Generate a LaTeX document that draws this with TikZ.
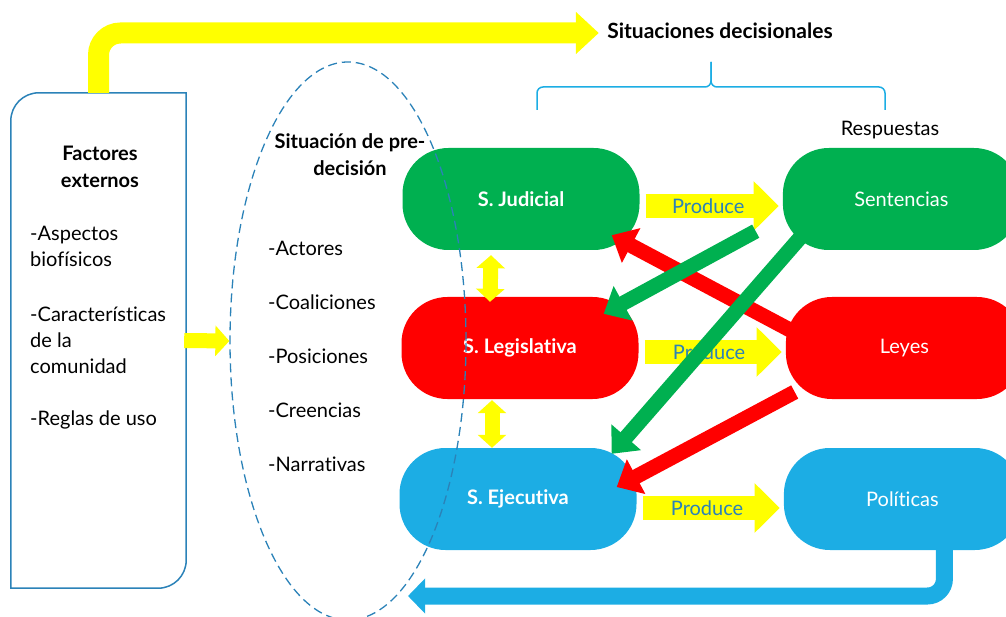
\documentclass[tikz,border=0pt]{standalone}
\usepackage{fontspec}
\setmainfont{Lato}[Ligatures=NoCommon]
\usetikzlibrary{positioning,arrows.meta,shapes.geometric}
\definecolor{sgreen}{HTML}{00B050}
\definecolor{sred}{HTML}{FF0000}
\definecolor{sblue}{HTML}{1CADE4}
\definecolor{syellow}{HTML}{FFFF00}
\definecolor{lineblue}{HTML}{2B82B8}

\begin{document}
\begin{tikzpicture}
		[x=1pt,y=-1pt,
		 plain/.style={font=\fontsize{20pt}{26pt}\selectfont},
		 heading/.style={font=\bfseries\fontsize{20pt}{27pt}\selectfont, align=center},
		 item/.style={plain, anchor=west, align=left, inner sep=0pt},
		 branch/.style={rectangle, rounded corners=46pt, minimum width=237pt, minimum height=102pt, text=white, font=\bfseries\fontsize{20pt}{24pt}\selectfont},
		 answer/.style={branch, font=\fontsize{20pt}{24pt}\selectfont},
		 produce/.style={line width=24pt, draw=syellow, -{Triangle[length=25pt,width=48pt]}},
		 twoway/.style={line width=15pt, draw=syellow, {Triangle[length=13pt,width=28pt]}-{Triangle[length=13pt,width=28pt]}},
		 law/.style={line width=15pt, draw=sred, -{Triangle[length=22pt,width=38pt]}},
		 ruling/.style={line width=15pt, draw=sgreen, -{Triangle[length=22pt,width=38pt]}},
		 feedback/.style={line width=17pt, draw=sblue, rounded corners=17pt, -{Triangle[length=17pt,width=34pt]}}]
		\useasboundingbox (0,0) rectangle (1006,617);
		\clip (0,0) rectangle (1006,617);

		% external factors box
		\node[minimum width=175pt, minimum height=495pt, inner sep=0pt] (ext) at (98.5,340.5) {};
		\draw[lineblue, line width=1.5pt] (ext.north east) -- ([xshift=28pt]ext.north west) arc[start angle=270, end angle=180, radius=28]
			-- (ext.south west) -- ([xshift=-28pt]ext.south east) arc[start angle=90, end angle=0, radius=28] -- cycle;
		\node[heading] (fact) at (100,166.5) {Factores\\externos};
		\node[item] (asp) at (30,246.5) {-Aspectos\\biofísicos};
		\node[item] (car) at (30,340.5) {-Características\\de la\\comunidad};
		\node[item] (reg) at (30,420) {-Reglas de uso};

		% top yellow arrow and braces
		\node[heading, font=\bfseries\fontsize{21pt}{27pt}\selectfont] (sd) at (720,31) {Situaciones decisionales};
		\draw[line width=21pt, draw=syellow, rounded corners=22pt, -{Triangle[length=23pt,width=41pt]}] (ext.north) |- ([xshift=-5pt,yshift=-2pt]sd.west);
		\draw[sblue, line width=1.5pt, rounded corners=6pt] (537,110) |- (711,87) -- (711,62);
		\draw[sblue, line width=1.5pt, rounded corners=6pt] (885,110) |- (711,87) -- (711,62);
		\node[plain] (resp) at (890,130) {Respuestas};

		% pre-decision texts
		\node[heading] (prt) at (350,154.5) {Situación de pre-\\decisión};
		\foreach \t [count=\i] in {Actores,Coaliciones,Posiciones,Creencias,Narrativas}
			\node[item] (it\i) at (268,{194+54*\i}) {-\t};

		% the three branches and what they give
		\node[branch, fill=sgreen] (jud) at (521,199) {S. Judicial};
		\node[branch, fill=sred] (leg) at (520,348) {S. Legislativa};
		\node[branch, fill=sblue] (eje) at (518,499) {S. Ejecutiva};
		\node[answer, fill=sgreen, right=143pt of jud] (sent) {Sentencias};
		\node[answer, fill=sred, right=147pt of leg] (ley) {Leyes};
		\node[answer, fill=sblue, right=147pt of eje] (pol) {Políticas};

		%draw the arrows
		\foreach \a/\b/\d in {jud/sent/7, leg/ley/4, eje/pol/9}
			\draw[produce] ([xshift=6pt,yshift=-\d pt]\a.east) -- ([xshift=-4pt,yshift=-\d pt]\b.west)
				node[pos=0.47, plain, text=lineblue]{Produce};
		\draw[twoway] ([xshift=-30pt,yshift=-5pt]jud.south) -- ([xshift=-30pt,yshift=-5pt]leg.north);
		\draw[twoway] ([xshift=-28pt,yshift=-1pt]leg.south) -- ([xshift=-26pt]eje.north);
		\draw[law] ([xshift=10pt,yshift=15pt]ley.west) -- ([xshift=-28pt,yshift=15pt]jud.south east);
		\draw[law] ([xshift=9pt,yshift=-44pt]ley.west) -- ([xshift=-20pt,yshift=12pt]eje.east);
		\draw[ruling] ([xshift=-27pt,yshift=19pt]sent.south west) -- ([xshift=-35pt,yshift=-17pt]leg.north east);
		\draw[ruling] ([xshift=17pt,yshift=12pt]sent.south west) -- ([xshift=-25pt,yshift=-6pt]eje.north east);
		\coordinate (back) at (408,596);
		\draw[feedback] ([xshift=42pt,yshift=2pt]pol.south) |- (back);

		% dashed pre-decision ellipse
		\node[draw=lineblue, line width=1.3pt, dash pattern=on 9pt off 5pt, ellipse, minimum width=236pt, minimum height=558pt, inner sep=0pt] (pre) at (348,341) {};
		\draw[line width=15pt, draw=syellow, -{Triangle[length=14pt,width=30pt]}] ([xshift=-2pt]ext.east) -- (pre.west);
	\end{tikzpicture}
\end{document}
